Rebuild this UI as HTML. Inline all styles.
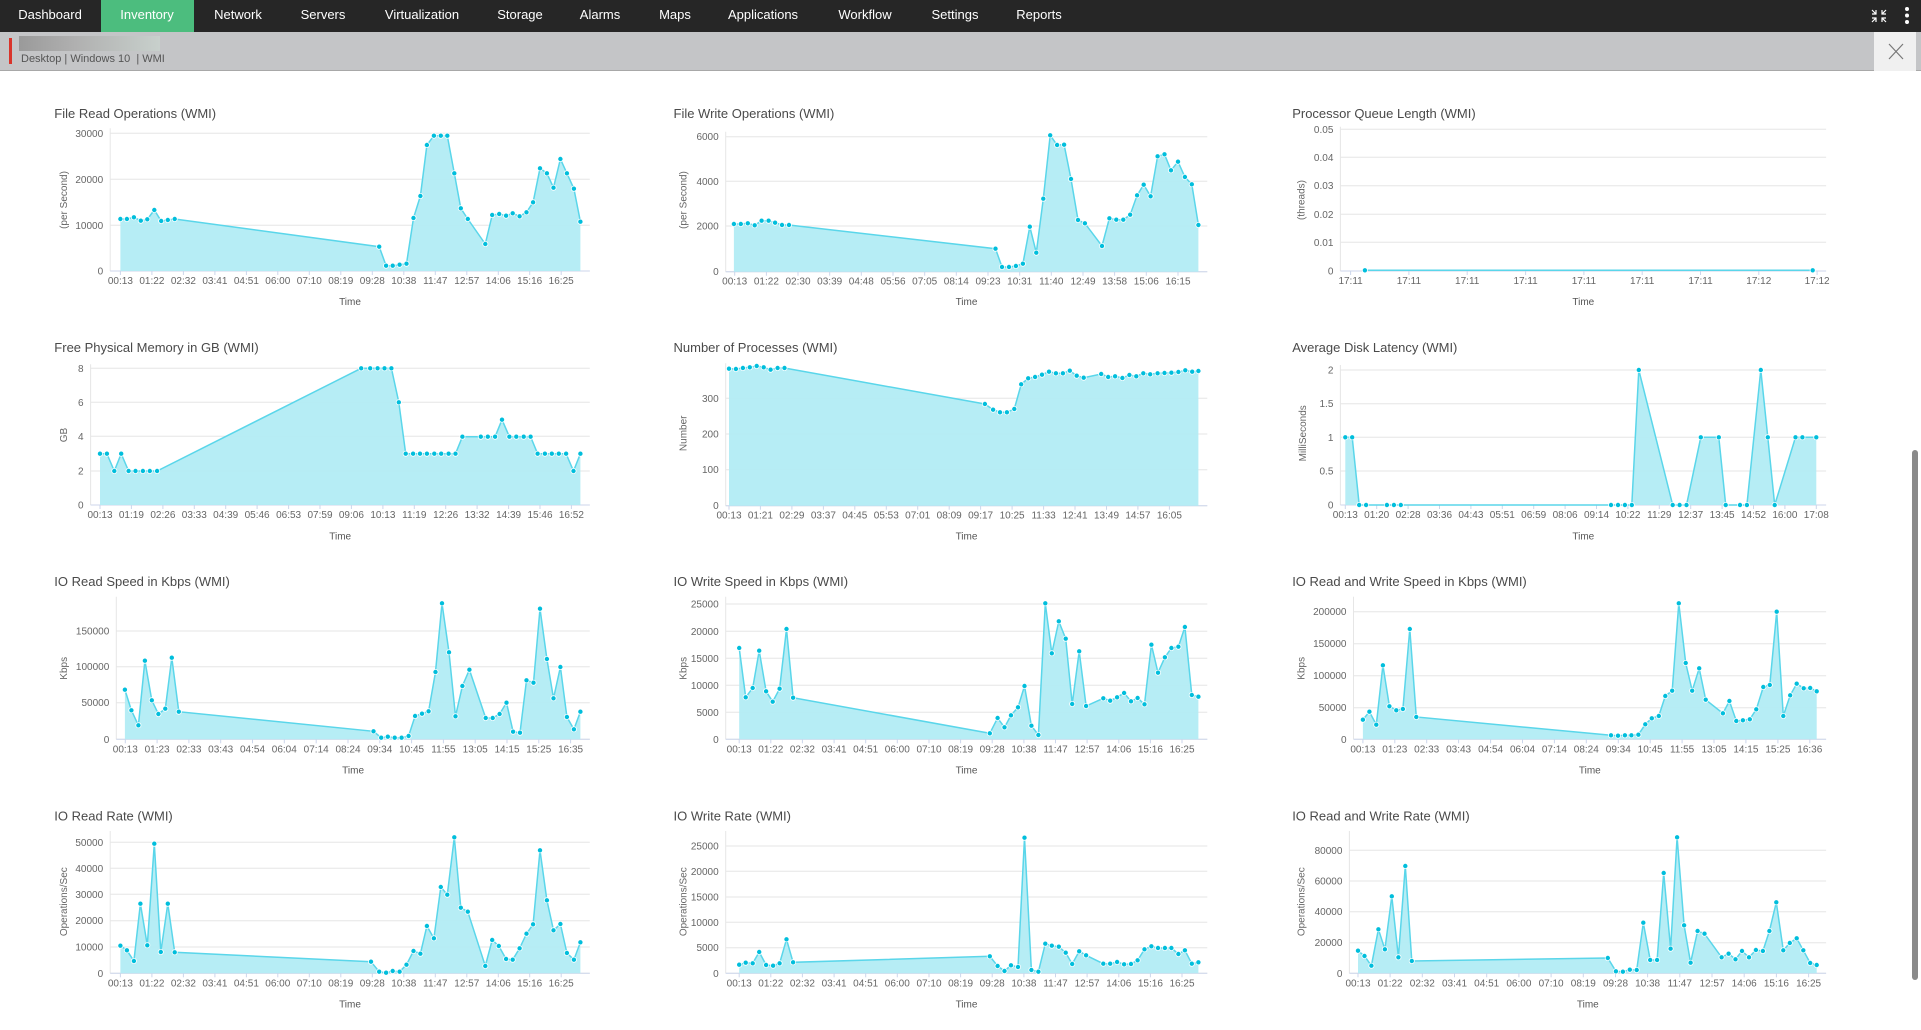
<!DOCTYPE html>
<html><head><meta charset="utf-8">
<style>
html,body{margin:0;padding:0;width:1921px;height:1030px;overflow:hidden;background:#fff;font-family:"Liberation Sans",sans-serif;}
#nav{position:absolute;left:0;top:0;width:1921px;height:32px;background:#262626;}
#nav span{position:absolute;top:0;height:32px;line-height:30px;color:#fff;font-size:13px;transform:translateX(-50%);white-space:nowrap;}
#inv{position:absolute;left:101px;top:0;width:93px;height:32px;background:#4cbd7e;}
#bar{position:absolute;left:0;top:32px;width:1921px;height:39px;background:#c4c5c7;border-bottom:1px solid #a8a8a8;box-sizing:border-box;}
#red{position:absolute;left:9px;top:38px;width:3px;height:26px;background:#d9342b;}
#blur{position:absolute;left:19px;top:36px;width:141px;height:15px;background:linear-gradient(90deg,#9a9a9a,#b0b0b0 40%,#c8d0cc);}
#sub{position:absolute;left:21px;top:53px;font-size:11px;color:#555;white-space:nowrap;}
#close{position:absolute;left:1874px;top:32px;width:42px;height:39px;background:#f0f0f0;}
#sb{position:absolute;left:1912px;top:450px;width:6px;height:530px;background:#8a8a8a;border-radius:3px;}
svg{position:absolute;left:0;top:0;}
</style></head><body>
<div id="nav"><div id="inv"></div>
<span style="left:50px">Dashboard</span><span style="left:147px">Inventory</span><span style="left:238px">Network</span><span style="left:323px">Servers</span><span style="left:422px">Virtualization</span><span style="left:520px">Storage</span><span style="left:600px">Alarms</span><span style="left:675px">Maps</span><span style="left:763px">Applications</span><span style="left:865px">Workflow</span><span style="left:955px">Settings</span><span style="left:1039px">Reports</span>
</div>
<div id="bar"></div><div id="red"></div><div id="blur"></div>
<div id="sub">Desktop | Windows 10 &nbsp;| WMI</div>
<div id="close"><svg width="42" height="39" style="position:absolute;left:0;top:0"><path d="M15 12 L29 27 M29 12 L15 27" stroke="#777" stroke-width="1.2"/></svg></div>
<div id="sb"></div>
<svg id="s" width="1921" height="1030" style="pointer-events:none">
<g fill="#fff"><path d="M1872 10l4 4m0-4v4h-4M1886 10l-4 4m0-4v4h4M1872 22l4-4m0 4v-4h-4M1886 22l-4-4m0 4v-4h4" stroke="#fff" stroke-width="1.2" fill="none"/>
<circle cx="1907" cy="9" r="2"/><circle cx="1907" cy="15.5" r="2"/><circle cx="1907" cy="22" r="2"/></g>
</svg>
<script>
var L1=["00:13","01:22","02:32","03:41","04:51","06:00","07:10","08:19","09:28","10:38","11:47","12:57","14:06","15:16","16:25"];
var L7=["00:13","01:23","02:33","03:43","04:54","06:04","07:14","08:24","09:34","10:45","11:55","13:05","14:15","15:25","16:35"];
var C=[
{o:[0,0],t:"File Read Operations (WMI)",tx:133,ty:340,pl:270,pr:1445,top:385,y0:813,yt:[["30000",400],["20000",538],["10000",676],["0",813]],xf:295,xl:1375,xs:L1,at:"(per Second)",ax:155,ay:600,ty2:905,
p:[[295,657],[311,657],[328,652],[345,662],[361,658],[378,630],[395,663],[411,660],[428,657],[929,740],[946,797],[962,797],[979,794],[996,791],[1013,654],[1030,588],[1046,435],[1063,407],[1080,407],[1096,407],[1113,520],[1129,625],[1146,657],[1189,732],[1206,645],[1223,642],[1240,647],[1256,640],[1273,649],[1290,637],[1306,607],[1323,505],[1340,520],[1356,563],[1373,477],[1389,520],[1406,566],[1422,665]]},
{o:[640,100],t:"File Write Operations (WMI)",tx:82,ty:40,pl:210,pr:1390,top:95,y0:515,yt:[["6000",110],["4000",244],["2000",378],["0",515]],xf:232,xl:1318,xs:["00:13","01:22","02:30","03:39","04:48","05:56","07:05","08:14","09:23","10:31","11:40","12:49","13:58","15:06","16:15"],at:"(per Second)",ax:105,ay:300,ty2:605,
p:[[230,372],[247,372],[264,370],[281,376],[298,362],[315,362],[331,368],[348,375],[365,375],[871,446],[887,501],[904,501],[921,498],[938,491],[955,380],[971,458],[988,296],[1005,106],[1022,135],[1039,134],[1056,237],[1073,360],[1090,370],[1132,438],[1150,355],[1167,359],[1184,359],[1201,344],[1218,286],[1234,254],[1251,289],[1268,169],[1285,163],[1301,211],[1318,185],[1335,231],[1352,253],[1368,375]]},
{o:[1280,0],t:"Processor Queue Length (WMI)",tx:30,ty:340,pl:148,pr:1338,top:380,y0:813,yt:[["0.05",388],["0.04",472],["0.03",557],["0.02",643],["0.01",727],["0",813]],xf:173,xl:1316,xs:["17:11","17:11","17:11","17:11","17:11","17:11","17:11","17:12","17:12"],at:"(threads)",ax:52,ay:600,ty2:905,
p:[[208,811],[1305,811]]},
{o:[0,335],t:"Free Physical Memory in GB (WMI)",tx:133,ty:38,pl:222,pr:1445,top:88,y0:510,yt:[["8",100],["6",202],["4",304],["2",408],["0",510]],xf:245,xl:1400,xs:["00:13","01:19","02:26","03:33","04:39","05:46","06:53","07:59","09:06","10:13","11:19","12:26","13:32","14:39","15:46","16:52"],at:"GB",ax:155,ay:300,ty2:603,
p:[[245,356],[262,356],[280,408],[297,356],[315,408],[332,408],[350,408],[367,408],[385,408],[885,100],[907,100],[925,100],[942,100],[959,100],[977,202],[994,356],[1012,356],[1029,356],[1046,356],[1064,356],[1081,356],[1099,356],[1116,356],[1133,305],[1178,305],[1195,305],[1213,305],[1230,254],[1248,305],[1265,305],[1283,305],[1300,305],[1317,356],[1335,356],[1352,356],[1369,356],[1387,356],[1405,408],[1422,356]]},
{o:[640,335],t:"Number of Processes (WMI)",tx:82,ty:38,pl:210,pr:1390,top:85,y0:512,yt:[["300",190],["200",297],["100",404],["0",512]],xf:218,xl:1297,xs:["00:13","01:21","02:29","03:37","04:45","05:53","07:01","08:09","09:17","10:25","11:33","12:41","13:49","14:57","16:05"],at:"Number",ax:105,ay:295,ty2:603,
p:[[218,101],[235,102],[252,99],[269,97],[286,93],[303,97],[320,104],[337,99],[354,99],[845,207],[865,224],[882,232],[899,232],[917,222],[934,148],[951,130],[968,126],[985,119],[1002,110],[1019,115],[1036,115],[1053,107],[1070,122],[1087,128],[1130,117],[1147,126],[1164,124],[1182,129],[1199,120],[1216,124],[1233,115],[1250,118],[1268,115],[1285,114],[1302,113],[1319,111],[1336,106],[1353,110],[1368,108]]},
{o:[1280,335],t:"Average Disk Latency (WMI)",tx:30,ty:38,pl:148,pr:1338,top:90,y0:510,yt:[["2",105],["1.5",206],["1",307],["0.5",408],["0",510]],xf:160,xl:1314,xs:["00:13","01:20","02:28","03:36","04:43","05:51","06:59","08:06","09:14","10:22","11:29","12:37","13:45","14:52","16:00","17:08"],at:"MilliSeconds",ax:55,ay:295,ty2:603,
p:[[160,307],[177,307],[194,510],[211,510],[262,510],[279,510],[296,510],[811,510],[828,510],[845,510],[862,510],[879,105],[962,510],[979,510],[996,510],[1031,307],[1075,307],[1092,510],[1127,510],[1144,510],[1178,105],[1195,307],[1212,510],[1263,307],[1280,307],[1314,307]]},
{o:[0,570],t:"IO Read Speed in Kbps (WMI)",tx:133,ty:35,pl:285,pr:1445,top:80,y0:508,yt:[["150000",183],["100000",290],["50000",398],["0",508]],xf:307,xl:1398,xs:L7,at:"Kbps",ax:155,ay:295,ty2:600,
p:[[306,359],[322,421],[339,466],[355,272],[372,391],[388,432],[405,416],[421,263],[438,425],[915,484],[934,503],[950,500],[967,503],[984,503],[1001,498],[1017,438],[1034,431],[1050,424],[1067,306],[1083,100],[1100,247],[1116,439],[1133,348],[1150,299],[1190,444],[1207,444],[1224,432],[1241,398],[1257,485],[1274,488],[1290,331],[1307,338],[1323,116],[1340,267],[1356,385],[1373,291],[1389,441],[1406,478],[1422,425]]},
{o:[640,570],t:"IO Write Speed in Kbps (WMI)",tx:82,ty:35,pl:210,pr:1390,top:80,y0:508,yt:[["25000",102],["20000",184],["15000",265],["10000",346],["5000",427],["0",508]],xf:243,xl:1328,xs:L1,at:"Kbps",ax:105,ay:295,ty2:600,
p:[[243,234],[259,382],[276,354],[292,242],[309,364],[325,395],[342,356],[359,177],[375,383],[857,490],[876,444],[893,472],[909,436],[926,412],[942,348],[959,467],[976,495],[993,100],[1009,250],[1026,154],[1043,206],[1059,402],[1076,244],[1093,408],[1135,385],[1152,392],[1169,382],[1186,369],[1203,394],[1219,384],[1236,403],[1253,224],[1269,308],[1286,262],[1302,234],[1319,230],[1335,171],[1352,375],[1368,380]]},
{o:[1280,570],t:"IO Read and Write Speed in Kbps (WMI)",tx:30,ty:35,pl:180,pr:1338,top:80,y0:508,yt:[["200000",125],["150000",221],["100000",317],["50000",413],["0",508]],xf:203,xl:1298,xs:["00:13","01:23","02:33","03:43","04:54","06:04","07:14","08:24","09:34","10:45","11:55","13:05","14:15","15:25","16:36"],at:"Kbps",ax:52,ay:295,ty2:600,
p:[[203,449],[219,425],[236,464],[252,286],[268,409],[285,421],[301,417],[318,177],[334,441],[811,496],[828,497],[845,496],[861,496],[878,494],[895,463],[911,445],[928,438],[944,378],[961,362],[977,100],[994,279],[1010,362],[1027,295],[1043,389],[1085,430],[1101,393],[1118,453],[1134,451],[1151,448],[1167,418],[1184,351],[1200,345],[1217,125],[1233,438],[1250,376],[1266,341],[1283,355],[1299,354],[1315,364]]},
{o:[0,805],t:"IO Read Rate (WMI)",tx:133,ty:33,pl:270,pr:1445,top:78,y0:505,yt:[["50000",112],["40000",190],["30000",268],["20000",347],["10000",426],["0",505]],xf:295,xl:1375,xs:L1,at:"Operations/Sec",ax:155,ay:290,ty2:597,
p:[[295,422],[311,436],[328,468],[344,296],[361,421],[378,116],[394,441],[411,296],[428,442],[909,470],[929,500],[946,503],[962,498],[979,500],[996,479],[1013,438],[1030,446],[1046,363],[1063,400],[1080,246],[1096,269],[1113,97],[1129,308],[1146,320],[1189,483],[1206,405],[1222,423],[1240,462],[1256,464],[1273,430],[1290,386],[1306,358],[1323,136],[1340,286],[1356,376],[1373,357],[1389,444],[1406,464],[1422,412]]},
{o:[640,805],t:"IO Write Rate (WMI)",tx:82,ty:33,pl:210,pr:1390,top:78,y0:505,yt:[["25000",123],["20000",199],["15000",276],["10000",352],["5000",428],["0",505]],xf:243,xl:1328,xs:L1,at:"Operations/Sec",ax:105,ay:290,ty2:597,
p:[[243,479],[259,473],[276,475],[292,441],[309,480],[326,482],[342,475],[359,403],[375,472],[857,454],[876,483],[893,498],[909,481],[926,486],[942,98],[959,495],[976,500],[993,416],[1009,422],[1026,425],[1043,443],[1059,477],[1076,439],[1093,451],[1135,476],[1152,476],[1169,471],[1186,478],[1203,477],[1219,466],[1236,433],[1253,424],[1269,429],[1286,429],[1302,429],[1319,447],[1335,436],[1352,476],[1368,472]]},
{o:[1280,805],t:"IO Read and Write Rate (WMI)",tx:30,ty:33,pl:170,pr:1338,top:78,y0:505,yt:[["80000",136],["60000",228],["40000",320],["20000",413],["0",505]],xf:191,xl:1295,xs:L1,at:"Operations/Sec",ax:52,ay:290,ty2:597,
p:[[191,437],[207,453],[224,482],[241,373],[257,433],[274,274],[290,457],[307,183],[323,468],[803,459],[823,499],[840,500],[857,494],[874,495],[890,353],[907,465],[924,465],[940,204],[957,431],[973,97],[990,361],[1006,473],[1023,378],[1040,386],[1082,457],[1099,446],[1116,463],[1132,438],[1149,457],[1166,435],[1183,438],[1199,378],[1216,292],[1233,436],[1249,414],[1266,400],[1282,436],[1299,474],[1315,480]]}
];
var h="";
function f(n){return n.toFixed(1);}
C.forEach(function(c){
 var ox=c.o[0],oy=c.o[1];
 function X(x){return ox+x/2.45;} function Y(y){return oy+y/3;}
 var pl=X(c.pl),pr=X(c.pr),y0=Y(c.y0),tp=Y(c.top);
 h+='<text x="'+f(X(c.tx))+'" y="'+f(Y(c.ty)+4.5)+'" font-size="13" fill="#4a4a4a">'+c.t+'</text>';
 c.yt.forEach(function(t){var y=Y(t[1]);
  if(t[0]!=="0"||true) h+='<line x1="'+f(pl)+'" x2="'+f(pr)+'" y1="'+f(y)+'" y2="'+f(y)+'" stroke="#e6e6e6" stroke-width="1"/>';
  h+='<text x="'+f(pl-7)+'" y="'+f(y+3.5)+'" font-size="10" fill="#666" text-anchor="end">'+t[0]+'</text>';});
 h+='<line x1="'+f(pl)+'" x2="'+f(pl)+'" y1="'+f(tp)+'" y2="'+f(y0)+'" stroke="#e6e6e6"/>';
 h+='<line x1="'+f(pl)+'" x2="'+f(pr)+'" y1="'+f(y0)+'" y2="'+f(y0)+'" stroke="#ccd6eb"/>';
 var n=c.xs.length;
 c.xs.forEach(function(s,i){var x=X(c.xf+(c.xl-c.xf)*i/(n-1));
  h+='<line x1="'+f(x)+'" x2="'+f(x)+'" y1="'+f(y0)+'" y2="'+f(y0+4)+'" stroke="#ccd6eb"/>';
  h+='<text x="'+f(x)+'" y="'+f(y0+13)+'" font-size="10" fill="#666" text-anchor="middle">'+s+'</text>';});
 h+='<text x="'+f((pl+pr)/2)+'" y="'+f(Y(c.ty2)+3.5)+'" font-size="10" fill="#555" text-anchor="middle">Time</text>';
 var ax=X(c.ax),ay=Y(c.ay);
 h+='<text x="'+f(ax)+'" y="'+f(ay)+'" font-size="10" fill="#666" text-anchor="middle" transform="rotate(-90 '+f(ax)+' '+f(ay)+')" dy="3.5">'+c.at+'</text>';
 var pts=c.p.map(function(p){return f(X(p[0]))+','+f(Y(p[1]));});
 var fx=X(c.p[0][0]),lx=X(c.p[c.p.length-1][0]);
 h+='<path d="M'+f(fx)+','+f(y0)+' L'+pts.join(' L')+' L'+f(lx)+','+f(y0)+' Z" fill="#b2ecf4" fill-opacity="0.95"/>';
 h+='<polyline points="'+pts.join(' ')+'" fill="none" stroke="#5ad6ea" stroke-width="1.5"/>';
 c.p.forEach(function(p){h+='<circle cx="'+f(X(p[0]))+'" cy="'+f(Y(p[1]))+'" r="2.6" fill="#00bedc" stroke="#fff" stroke-width="0.8"/>';});
});
document.getElementById("s").insertAdjacentHTML("beforeend",h);
</script>
</body></html>
